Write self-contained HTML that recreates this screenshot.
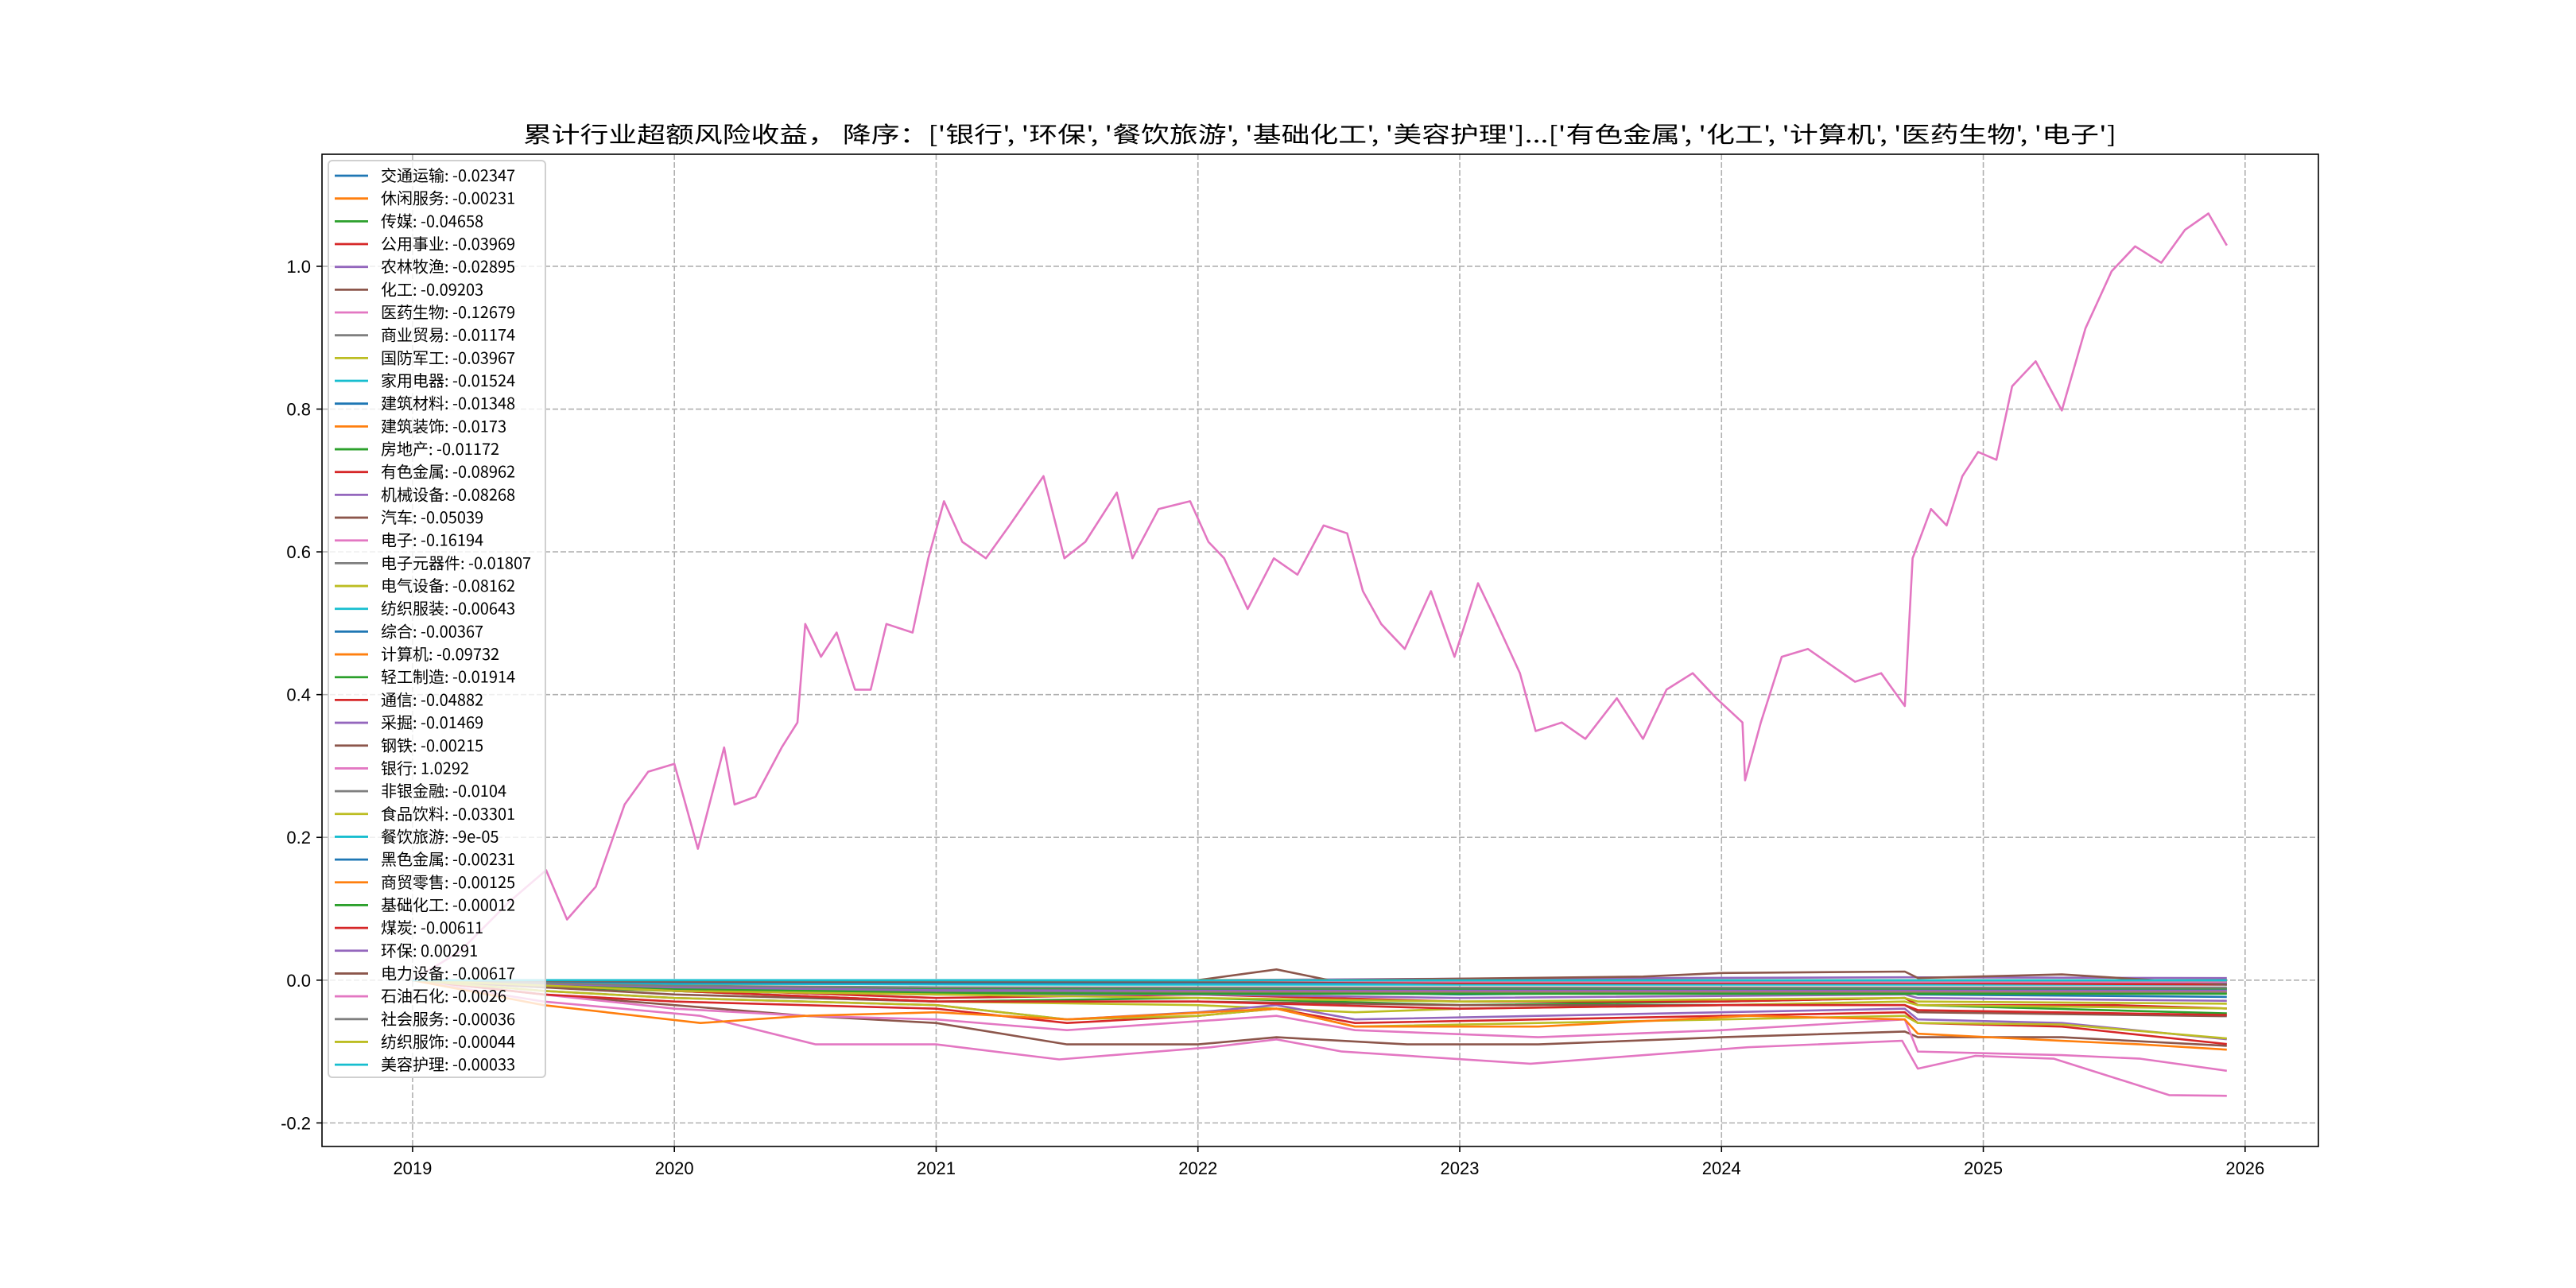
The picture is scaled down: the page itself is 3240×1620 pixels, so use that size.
<!DOCTYPE html>
<html><head><meta charset="utf-8"><style>
html,body{margin:0;padding:0;background:#fff}
svg{display:block}
text{font-family:"Liberation Sans","Noto Sans CJK SC",sans-serif}
</style></head><body>
<svg id="chart" width="3240" height="1620" viewBox="0 0 3240 1620" xmlns="http://www.w3.org/2000/svg">
<rect width="3240" height="1620" fill="#fff"/>
<text x="1660" y="179" text-anchor="middle" font-size="28" textLength="2004" lengthAdjust="spacingAndGlyphs" style="font-family:'Noto Sans CJK SC',sans-serif">累计行业超额风险收益，  降序：['银行', '环保', '餐饮旅游', '基础化工', '美容护理']...['有色金属', '化工', '计算机', '医药生物', '电子']</text>
<g id="grid"></g>
<g id="series"></g>
<g id="axes"></g>
<g id="legend"></g>
</svg>
<script>
const xTicks = [2019, 2020, 2021, 2022, 2023, 2024, 2025, 2026];
const yTicks = [-0.2, 0.0, 0.2, 0.4, 0.6, 0.8, 1.0];
const yTickLabels = ["-0.2", "0.0", "0.2", "0.4", "0.6", "0.8", "1.0"];
const seriesNames = ["交通运输","休闲服务","传媒","公用事业","农林牧渔","化工","医药生物","商业贸易","国防军工","家用电器","建筑材料","建筑装饰","房地产","有色金属","机械设备","汽车","电子","电子元器件","电气设备","纺织服装","综合","计算机","轻工制造","通信","采掘","钢铁","银行","非银金融","食品饮料","餐饮旅游","黑色金属","商贸零售","基础化工","煤炭","环保","电力设备","石油石化","社会服务","纺织服饰","美容护理"];
const seriesFinal = ["-0.02347","-0.00231","-0.04658","-0.03969","-0.02895","-0.09203","-0.12679","-0.01174","-0.03967","-0.01524","-0.01348","-0.0173","-0.01172","-0.08962","-0.08268","-0.05039","-0.16194","-0.01807","-0.08162","-0.00643","-0.00367","-0.09732","-0.01914","-0.04882","-0.01469","-0.00215","1.0292","-0.0104","-0.03301","-9e-05","-0.00231","-0.00125","-0.00012","-0.00611","0.00291","-0.00617","-0.0026","-0.00036","-0.00044","-0.00033"];
const bankYears = [2019.00,2019.18,2019.37,2019.51,2019.59,2019.70,2019.81,2019.90,2020.00,2020.09,2020.19,2020.23,2020.31,2020.41,2020.47,2020.50,2020.56,2020.62,2020.69,2020.75,2020.81,2020.91,2020.97,2021.03,2021.10,2021.19,2021.28,2021.41,2021.49,2021.57,2021.69,2021.75,2021.85,2021.97,2022.04,2022.10,2022.19,2022.29,2022.38,2022.48,2022.57,2022.63,2022.70,2022.79,2022.89,2022.98,2023.07,2023.13,2023.23,2023.29,2023.39,2023.48,2023.60,2023.70,2023.79,2023.89,2023.98,2024.08,2024.09,2024.15,2024.23,2024.33,2024.42,2024.51,2024.61,2024.70,2024.73,2024.80,2024.86,2024.92,2024.98,2025.05,2025.11,2025.20,2025.30,2025.39,2025.49,2025.58,2025.68,2025.77,2025.86,2025.93];
const bankValues = [0,0.04,0.11,0.154,0.085,0.131,0.246,0.292,0.303,0.184,0.326,0.246,0.257,0.326,0.361,0.499,0.453,0.487,0.407,0.407,0.499,0.487,0.591,0.671,0.614,0.591,0.637,0.706,0.591,0.614,0.683,0.591,0.66,0.671,0.614,0.591,0.52,0.591,0.568,0.637,0.626,0.545,0.499,0.464,0.545,0.453,0.556,0.51,0.43,0.349,0.361,0.338,0.395,0.338,0.407,0.43,0.395,0.361,0.28,0.361,0.453,0.464,0.441,0.418,0.43,0.384,0.591,0.66,0.637,0.706,0.74,0.729,0.832,0.867,0.798,0.913,0.993,1.028,1.005,1.051,1.074,1.0292];
const seriesPoints = [
 [[2019,0],[2020,-0.015],[2021,-0.02],[2022,-0.015],[2023,-0.02],[2024.7,-0.015],[2024.75,-0.02],[2025.93,-0.0235]],
 [[2019,0],[2020,-0.006],[2021,-0.004],[2022,-0.003],[2025.93,-0.0023]],
 [[2019,0],[2019.5,-0.01],[2020,-0.015],[2021,-0.03],[2022,-0.025],[2023,-0.035],[2024,-0.03],[2024.7,-0.025],[2024.75,-0.035],[2025.93,-0.0466]],
 [[2019,0],[2020,-0.012],[2021,-0.025],[2022,-0.02],[2023,-0.03],[2024,-0.03],[2024.7,-0.025],[2024.75,-0.035],[2025.5,-0.035],[2025.93,-0.0397]],
 [[2019,0],[2020,-0.01],[2021,-0.02],[2022,-0.02],[2023,-0.025],[2024.7,-0.02],[2024.75,-0.025],[2025.93,-0.029]],
 [[2019,0],[2019.5,-0.02],[2020,-0.035],[2020.5,-0.05],[2021,-0.06],[2021.5,-0.09],[2022,-0.09],[2022.3,-0.08],[2022.8,-0.09],[2023.3,-0.09],[2024,-0.08],[2024.7,-0.072],[2024.75,-0.08],[2025.3,-0.08],[2025.93,-0.092]],
 [[2019,0],[2019.5,-0.02],[2020,-0.04],[2020.5,-0.05],[2021,-0.055],[2021.5,-0.07],[2022.3,-0.05],[2022.6,-0.07],[2023.3,-0.08],[2024,-0.07],[2024.7,-0.055],[2024.75,-0.1],[2025.3,-0.105],[2025.6,-0.11],[2025.93,-0.127]],
 [[2019,0],[2020,-0.008],[2021,-0.012],[2022,-0.012],[2025.93,-0.0117]],
 [[2019,0],[2020,-0.015],[2021,-0.03],[2022,-0.035],[2022.6,-0.045],[2023,-0.04],[2024,-0.035],[2024.7,-0.03],[2024.75,-0.035],[2025.93,-0.0397]],
 [[2019,0],[2020,-0.008],[2021,-0.012],[2022,-0.015],[2025.93,-0.0152]],
 [[2019,0],[2020,-0.008],[2021,-0.012],[2022,-0.013],[2025.93,-0.0135]],
 [[2019,0],[2020,-0.012],[2021,-0.016],[2022,-0.017],[2025.93,-0.0173]],
 [[2019,0],[2020,-0.008],[2021,-0.012],[2022,-0.012],[2025.93,-0.0117]],
 [[2019,0],[2019.5,-0.02],[2020,-0.03],[2021,-0.04],[2021.5,-0.06],[2022,-0.05],[2022.3,-0.04],[2022.6,-0.06],[2023.3,-0.055],[2024,-0.05],[2024.7,-0.045],[2024.75,-0.06],[2025.3,-0.065],[2025.93,-0.0896]],
 [[2019,0],[2019.5,-0.015],[2020,-0.025],[2021,-0.035],[2021.5,-0.055],[2022,-0.045],[2022.3,-0.035],[2022.6,-0.055],[2023.3,-0.05],[2024,-0.045],[2024.7,-0.04],[2024.75,-0.055],[2025.3,-0.06],[2025.93,-0.0827]],
 [[2019,0],[2020,-0.02],[2021,-0.03],[2022,-0.03],[2023,-0.035],[2024.7,-0.035],[2024.75,-0.045],[2025.93,-0.0504]],
 [[2019,0],[2019.5,-0.03],[2020.1,-0.05],[2020.54,-0.09],[2021,-0.09],[2021.47,-0.111],[2022.05,-0.094],[2022.3,-0.083],[2022.55,-0.1],[2023.27,-0.117],[2024.1,-0.094],[2024.69,-0.085],[2024.75,-0.124],[2024.97,-0.106],[2025.27,-0.11],[2025.71,-0.161],[2025.93,-0.162]],
 [[2019,0],[2020,-0.012],[2021,-0.016],[2022,-0.018],[2025.93,-0.0181]],
 [[2019,0],[2019.5,-0.015],[2020,-0.025],[2021,-0.035],[2021.5,-0.055],[2022,-0.05],[2022.3,-0.04],[2022.6,-0.065],[2023.3,-0.06],[2024,-0.055],[2024.7,-0.05],[2024.75,-0.06],[2025.3,-0.062],[2025.93,-0.0816]],
 [[2019,0],[2020,-0.005],[2021,-0.006],[2022,-0.0064],[2025.93,-0.0064]],
 [[2019,0],[2020,-0.003],[2021,-0.0035],[2025.93,-0.0037]],
 [[2019,0],[2019.5,-0.035],[2020.1,-0.06],[2020.5,-0.05],[2021,-0.045],[2021.5,-0.055],[2022.3,-0.04],[2022.6,-0.065],[2023.3,-0.065],[2024.1,-0.05],[2024.7,-0.055],[2024.75,-0.075],[2025.3,-0.085],[2025.6,-0.09],[2025.93,-0.0973]],
 [[2019,0],[2020,-0.012],[2021,-0.018],[2022,-0.019],[2025.93,-0.0191]],
 [[2019,0],[2020,-0.015],[2021,-0.03],[2022,-0.03],[2023,-0.04],[2024,-0.035],[2024.7,-0.035],[2024.75,-0.042],[2025.93,-0.0488]],
 [[2019,0],[2020,-0.01],[2021,-0.014],[2022,-0.0147],[2025.93,-0.0147]],
 [[2019,0],[2020,-0.002],[2022,-0.002],[2025.93,-0.0022]],
 [],
 [[2019,0],[2020,-0.008],[2021,-0.01],[2022,-0.0104],[2025.93,-0.0104]],
 [[2019,0],[2020,-0.015],[2021,-0.02],[2022,-0.025],[2023,-0.03],[2024.7,-0.025],[2024.75,-0.03],[2025.93,-0.033]],
 [[2019,0],[2022,-0.0001],[2025.93,-0.0001]],
 [[2022,0],[2023,-0.002],[2025.93,-0.0023]],
 [[2022,0],[2023,-0.001],[2025.93,-0.0013]],
 [[2022,0],[2023,-0.0002],[2025.93,-0.0001]],
 [[2022,0],[2023,-0.004],[2024.7,-0.004],[2025.93,-0.0061]],
 [[2022,0],[2023,0.002],[2024.7,0.004],[2025.93,0.0029]],
 [[2022,0],[2022.3,0.015],[2022.5,0.0],[2023.7,0.005],[2024,0.01],[2024.7,0.012],[2024.75,0.003],[2025.3,0.008],[2025.93,-0.0062]],
 [[2022,0],[2023,-0.002],[2025.93,-0.0026]],
 [[2022,0],[2023,-0.0003],[2025.93,-0.0004]],
 [[2022,0],[2023,-0.0004],[2025.93,-0.0004]],
 [[2019,0],[2022,-0.0002],[2025.93,-0.0003]]
];
const colors = ["#1f77b4","#ff7f0e","#2ca02c","#d62728","#9467bd","#8c564b","#e377c2","#7f7f7f","#bcbd22","#17becf"];
const L=405,R=2916,T=194,B=1442, X0=2018.654, X1=2026.28, Y0=-0.233, Y1=1.157;
const sx = v => L + (v - X0) / (X1 - X0) * (R - L);
const sy = v => B - (v - Y0) / (Y1 - Y0) * (B - T);
const NS="http://www.w3.org/2000/svg";
function mk(tag, parent){const e=document.createElementNS(NS,tag);parent.appendChild(e);return e;}
const grid=document.getElementById('grid'), ser=document.getElementById('series'), axes=document.getElementById('axes'), leg=document.getElementById('legend');
xTicks.forEach(t=>{
  const g=mk('line',grid);
  
  
  g.setAttribute('x1',sx(t));g.setAttribute('x2',sx(t));g.setAttribute('y1',T);g.setAttribute('y2',B);
  g.setAttribute('stroke','#b0b0b0');g.setAttribute('stroke-width','1.6');g.setAttribute('stroke-dasharray','7,3');
  const k=mk('line',axes);
  
  
  k.setAttribute('x1',sx(t));k.setAttribute('x2',sx(t));k.setAttribute('y1',B);k.setAttribute('y2',B+7);
  k.setAttribute('stroke','#000');k.setAttribute('stroke-width','1.6');
  const tx=mk('text',axes);
  
  
  tx.setAttribute('x',sx(t));tx.setAttribute('y',B+35);tx.setAttribute('text-anchor','middle');tx.setAttribute('font-size','22');
  tx.textContent=String(t);
});
yTicks.forEach((t,i)=>{
  const g=mk('line',grid);
  
  
  g.setAttribute('x1',L);g.setAttribute('x2',R);g.setAttribute('y1',sy(t));g.setAttribute('y2',sy(t));
  g.setAttribute('stroke','#b0b0b0');g.setAttribute('stroke-width','1.6');g.setAttribute('stroke-dasharray','7,3');
  const k=mk('line',axes);
  
  
  k.setAttribute('x1',L-7);k.setAttribute('x2',L);k.setAttribute('y1',sy(t));k.setAttribute('y2',sy(t));
  k.setAttribute('stroke','#000');k.setAttribute('stroke-width','1.6');
  const tx=mk('text',axes);
  
  
  tx.setAttribute('x',L-14);tx.setAttribute('y',sy(t)+8);tx.setAttribute('text-anchor','end');tx.setAttribute('font-size','22');
  tx.textContent=yTickLabels[i];
});
seriesNames.forEach((n,i)=>{
  let pts;
  if(i===26){pts=bankYears.map((y,j)=>[y,bankValues[j]]);} else pts=seriesPoints[i];
  if(!pts.length) return;
  const p=mk('polyline',ser);
  
  
  p.setAttribute('points',pts.map(q=>sx(q[0]).toFixed(1)+','+sy(q[1]).toFixed(1)).join(' '));
  p.setAttribute('fill','none');p.setAttribute('stroke',colors[i%10]);p.setAttribute('stroke-width','2.6');p.setAttribute('stroke-linejoin','round');
});
const frame=mk('rect',axes);


frame.setAttribute('x',L);frame.setAttribute('y',T);frame.setAttribute('width',R-L);frame.setAttribute('height',B-T);
frame.setAttribute('fill','none');frame.setAttribute('stroke','#000');frame.setAttribute('stroke-width','1.6');
const box=mk('rect',leg);


box.setAttribute('x',413);box.setAttribute('y',202);box.setAttribute('width',273);box.setAttribute('height',1153);box.setAttribute('rx',5);
box.setAttribute('fill','#fff');box.setAttribute('fill-opacity','0.8');box.setAttribute('stroke','#d0d0d0');box.setAttribute('stroke-width','2');
seriesNames.forEach((n,i)=>{
  const y=221+i*28.67;
  const l=mk('line',leg);
  
  
  l.setAttribute('x1',421);l.setAttribute('x2',463);l.setAttribute('y1',y);l.setAttribute('y2',y);
  l.setAttribute('stroke',colors[i%10]);l.setAttribute('stroke-width','2.8');
  const t=mk('text',leg);
  
  
  t.setAttribute('x',479);t.setAttribute('y',y+7);t.setAttribute('font-size','20');
  t.setAttribute('style',"font-family:'Noto Sans CJK SC',sans-serif");
  t.textContent=n+': '+seriesFinal[i];
});
</script>
</body></html>
